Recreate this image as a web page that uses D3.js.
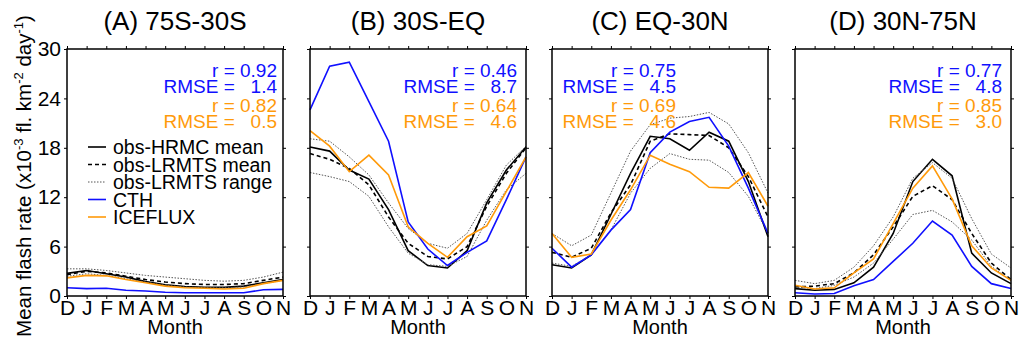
<!DOCTYPE html>
<html>
<head>
<meta charset="utf-8">
<script src="https://cdn.jsdelivr.net/npm/d3@7"></script>
<style>
  body { margin: 0; background: #fff; }
  svg text { font-family: "Liberation Sans", Arial, sans-serif; }
</style>
</head>
<body>
<svg></svg>
<script>
var months = ['D', 'J', 'F', 'M', 'A', 'M', 'J', 'J', 'A', 'S', 'O', 'N'];
var yTicks = [0, 6, 12, 18, 24, 30];
var titles = ['(A) 75S-30S', '(B) 30S-EQ', '(C) EQ-30N', '(D) 30N-75N'];

// stats per panel: [r CTH, RMSE CTH, r ICEFLUX, RMSE ICEFLUX]
var stats = [
  ['0.92', '1.4', '0.82', '0.5'],
  ['0.46', '8.7', '0.64', '4.6'],
  ['0.75', '4.5', '0.69', '4.6'],
  ['0.77', '4.8', '0.85', '3.0']
];

var hrmc = [
  [2.75, 3.1, 2.7, 2.3, 1.75, 1.35, 1.15, 1.05, 1.05, 1.2, 1.6, 2.0],
  [18.1, 17.6, 15.3, 14.2, 10.5, 5.5, 3.7, 3.4, 5.5, 11.3, 15.3, 18.1],
  [3.8, 3.4, 5.0, 9.9, 14.9, 19.4, 19.1, 17.7, 19.9, 18.8, 13.9, 7.2],
  [0.9, 0.7, 0.8, 1.6, 3.5, 7.6, 13.9, 16.6, 14.6, 5.2, 2.8, 1.5]
];
var lrmtsMean = [
  [2.6, 3.0, 2.8, 2.4, 2.0, 1.7, 1.5, 1.4, 1.4, 1.5, 1.9, 2.3],
  [17.3, 16.6, 15.5, 13.5, 9.6, 6.4, 4.8, 4.5, 6.0, 10.9, 14.9, 18.0],
  [5.3, 4.7, 5.8, 10.1, 13.5, 18.8, 19.7, 19.6, 19.5, 18.0, 14.5, 9.6],
  [1.1, 1.2, 1.5, 2.8, 5.0, 8.4, 12.1, 13.4, 11.7, 7.6, 4.0, 2.0]
];
var lrmtsMax = [
  [3.3, 3.3, 3.1, 2.8, 2.5, 2.3, 2.1, 1.9, 1.8, 1.9, 2.3, 2.9],
  [19.1, 18.8, 16.9, 14.7, 11.3, 8.2, 6.4, 5.8, 7.6, 11.7, 15.9, 18.2],
  [7.6, 6.1, 7.4, 12.5, 17.6, 20.8, 21.6, 21.8, 22.3, 20.9, 17.4, 12.5],
  [1.9, 1.5, 1.9, 3.5, 6.1, 9.6, 14.3, 16.2, 14.3, 9.4, 5.1, 3.4]
];
var lrmtsMin = [
  [2.4, 2.7, 2.5, 2.1, 1.7, 1.3, 1.1, 1.0, 1.0, 1.1, 1.5, 1.9],
  [15.0, 14.5, 13.9, 12.1, 8.4, 5.2, 3.8, 3.6, 4.8, 9.2, 12.9, 14.9],
  [4.0, 3.6, 5.0, 8.0, 12.5, 15.5, 17.3, 16.6, 16.5, 15.0, 12.1, 7.6],
  [1.1, 0.9, 1.3, 2.3, 4.0, 6.9, 9.9, 10.4, 9.0, 6.8, 3.6, 1.9]
];
var cth = [
  [1.0, 0.9, 0.95, 0.7, 0.6, 0.45, 0.4, 0.4, 0.4, 0.4, 0.75, 0.8],
  [22.6, 27.9, 28.4, 23.6, 18.8, 9.0, 5.7, 3.7, 5.3, 6.7, 11.7, 16.9],
  [5.8, 3.5, 5.0, 8.0, 10.5, 17.4, 19.9, 21.2, 21.7, 18.2, 13.1, 7.6],
  [0.4, 0.25, 0.3, 1.25, 2.0, 4.2, 6.4, 9.1, 7.4, 3.6, 1.5, 0.9]
];
var iceflux = [
  [2.2, 2.5, 2.45, 2.0, 1.6, 1.2, 1.0, 0.95, 0.85, 0.95, 1.5, 1.9],
  [20.1, 18.2, 15.1, 17.1, 14.7, 8.4, 6.4, 4.7, 7.2, 8.5, 12.7, 16.9],
  [7.6, 4.7, 5.1, 9.2, 12.9, 17.1, 16.0, 15.1, 13.2, 13.1, 15.0, 10.9],
  [1.3, 0.85, 1.0, 2.8, 4.5, 8.8, 13.1, 15.8, 11.8, 6.1, 3.4, 1.9]
];

var legendLabels = ['obs-HRMC mean', 'obs-LRMTS mean', 'obs-LRMTS range', 'CTH', 'ICEFLUX'];

var blue = '#1010ff';
var orange = '#ff9a0a';

var width = 1019, height = 343;
var svg = d3.select('svg').attr('width', width).attr('height', height);

var panelLeft = [67, 310, 552, 795];
var panelW = 216;
var plotTop = 49, plotBottom = 296;
var statsRight = [277, 517, 676, 1002];
var statsY = [77, 93, 112, 128];

var yScale = d3.scaleLinear().domain([0, 30]).range([plotBottom, plotTop]);

var styles = [
  { data: hrmc, color: '#000', w: 1.6, dash: null },
  { data: lrmtsMean, color: '#000', w: 1.6, dash: '4,3' },
  { data: lrmtsMax, color: '#555', w: 1, dash: '1.5,1.5' },
  { data: lrmtsMin, color: '#555', w: 1, dash: '1.5,1.5' },
  { data: cth, color: blue, w: 1.6, dash: null },
  { data: iceflux, color: orange, w: 1.6, dash: null }
];

titles.forEach(function(title, p) {
  var x0 = panelLeft[p];
  var xScale = d3.scaleLinear().domain([0, 11]).range([x0, x0 + panelW]);
  var g = svg.append('g');

  var line = d3.line()
    .x(function(d, i) { return xScale(i); })
    .y(function(d) { return yScale(d); });

  styles.forEach(function(s) {
    g.append('path')
      .attr('d', line(s.data[p]))
      .attr('fill', 'none')
      .attr('stroke', s.color)
      .attr('stroke-width', s.w)
      .attr('stroke-dasharray', s.dash);
  });

  // frame
  g.append('rect')
    .attr('x', x0).attr('y', plotTop)
    .attr('width', panelW).attr('height', plotBottom - plotTop)
    .attr('fill', 'none').attr('stroke', '#000').attr('stroke-width', 1.5);

  var tickVals = d3.range(12);
  g.append('g')
    .attr('transform', 'translate(0,' + plotTop + ')')
    .call(d3.axisTop(xScale).tickValues(tickVals).tickSize(3).tickFormat(''))
    .call(function(a) { a.select('.domain').remove(); });
  g.append('g')
    .attr('transform', 'translate(0,' + plotBottom + ')')
    .call(d3.axisBottom(xScale).tickValues(tickVals).tickSize(3).tickPadding(1)
      .tickFormat(function(d) { return months[d]; }))
    .call(function(a) {
      a.select('.domain').remove();
      a.selectAll('text').attr('font-size', 21).attr('fill', '#000')
        .attr('font-family', '"Liberation Sans", Arial, sans-serif');
    });
  g.append('g')
    .attr('transform', 'translate(' + x0 + ',0)')
    .call(d3.axisLeft(yScale).tickValues(yTicks).tickSize(3).tickPadding(3)
      .tickFormat(p === 0 ? d3.format('d') : ''))
    .call(function(a) {
      a.select('.domain').remove();
      a.selectAll('text').attr('font-size', 21).attr('fill', '#000')
        .attr('font-family', '"Liberation Sans", Arial, sans-serif');
    });
  g.append('g')
    .attr('transform', 'translate(' + (x0 + panelW) + ',0)')
    .call(d3.axisRight(yScale).tickValues(yTicks).tickSize(3).tickFormat(''))
    .call(function(a) { a.select('.domain').remove(); });

  // title and x label
  g.append('text')
    .attr('x', x0 + panelW / 2).attr('y', 30)
    .attr('text-anchor', 'middle').attr('font-size', 26)
    .text(title);
  g.append('text')
    .attr('x', x0 + panelW / 2).attr('y', 334)
    .attr('text-anchor', 'middle').attr('font-size', 20)
    .text('Month');

  // stats
  var sx = statsRight[p];
  var rows = [
    ['r = ', stats[p][0], blue],
    ['RMSE =   ', stats[p][1], blue],
    ['r = ', stats[p][2], orange],
    ['RMSE =   ', stats[p][3], orange]
  ];
  rows.forEach(function(r, i) {
    g.append('text')
      .attr('x', sx).attr('y', statsY[i])
      .attr('text-anchor', 'end').attr('font-size', 19)
      .attr('fill', r[2])
      .attr('xml:space', 'preserve')
      .style('white-space', 'pre')
      .text(r[0] + r[1]);
  });
});

// legend in panel A
var legendStyles = [styles[0], styles[1], styles[2], styles[4], styles[5]];
legendLabels.forEach(function(lab, i) {
  var ly = 147 + i * 17.5;
  svg.append('line')
    .attr('x1', 88).attr('x2', 106).attr('y1', ly).attr('y2', ly)
    .attr('stroke', legendStyles[i].color)
    .attr('stroke-width', legendStyles[i].w)
    .attr('stroke-dasharray', legendStyles[i].dash);
  svg.append('text')
    .attr('x', 113).attr('y', ly + 7)
    .attr('font-size', 19.5)
    .text(lab);
});

// y axis label
var yl = svg.append('text')
  .attr('transform', 'translate(31,176) rotate(-90)')
  .attr('text-anchor', 'middle').attr('font-size', 20.5);
yl.append('tspan').text('Mean flash rate (x10');
yl.append('tspan').attr('dy', -8).attr('font-size', 13).text('-3');
yl.append('tspan').attr('dy', 8).text(' fl. km');
yl.append('tspan').attr('dy', -8).attr('font-size', 13).text('-2');
yl.append('tspan').attr('dy', 8).text(' day');
yl.append('tspan').attr('dy', -8).attr('font-size', 13).text('-1');
yl.append('tspan').attr('dy', 8).text(')');
</script>
</body>
</html>
